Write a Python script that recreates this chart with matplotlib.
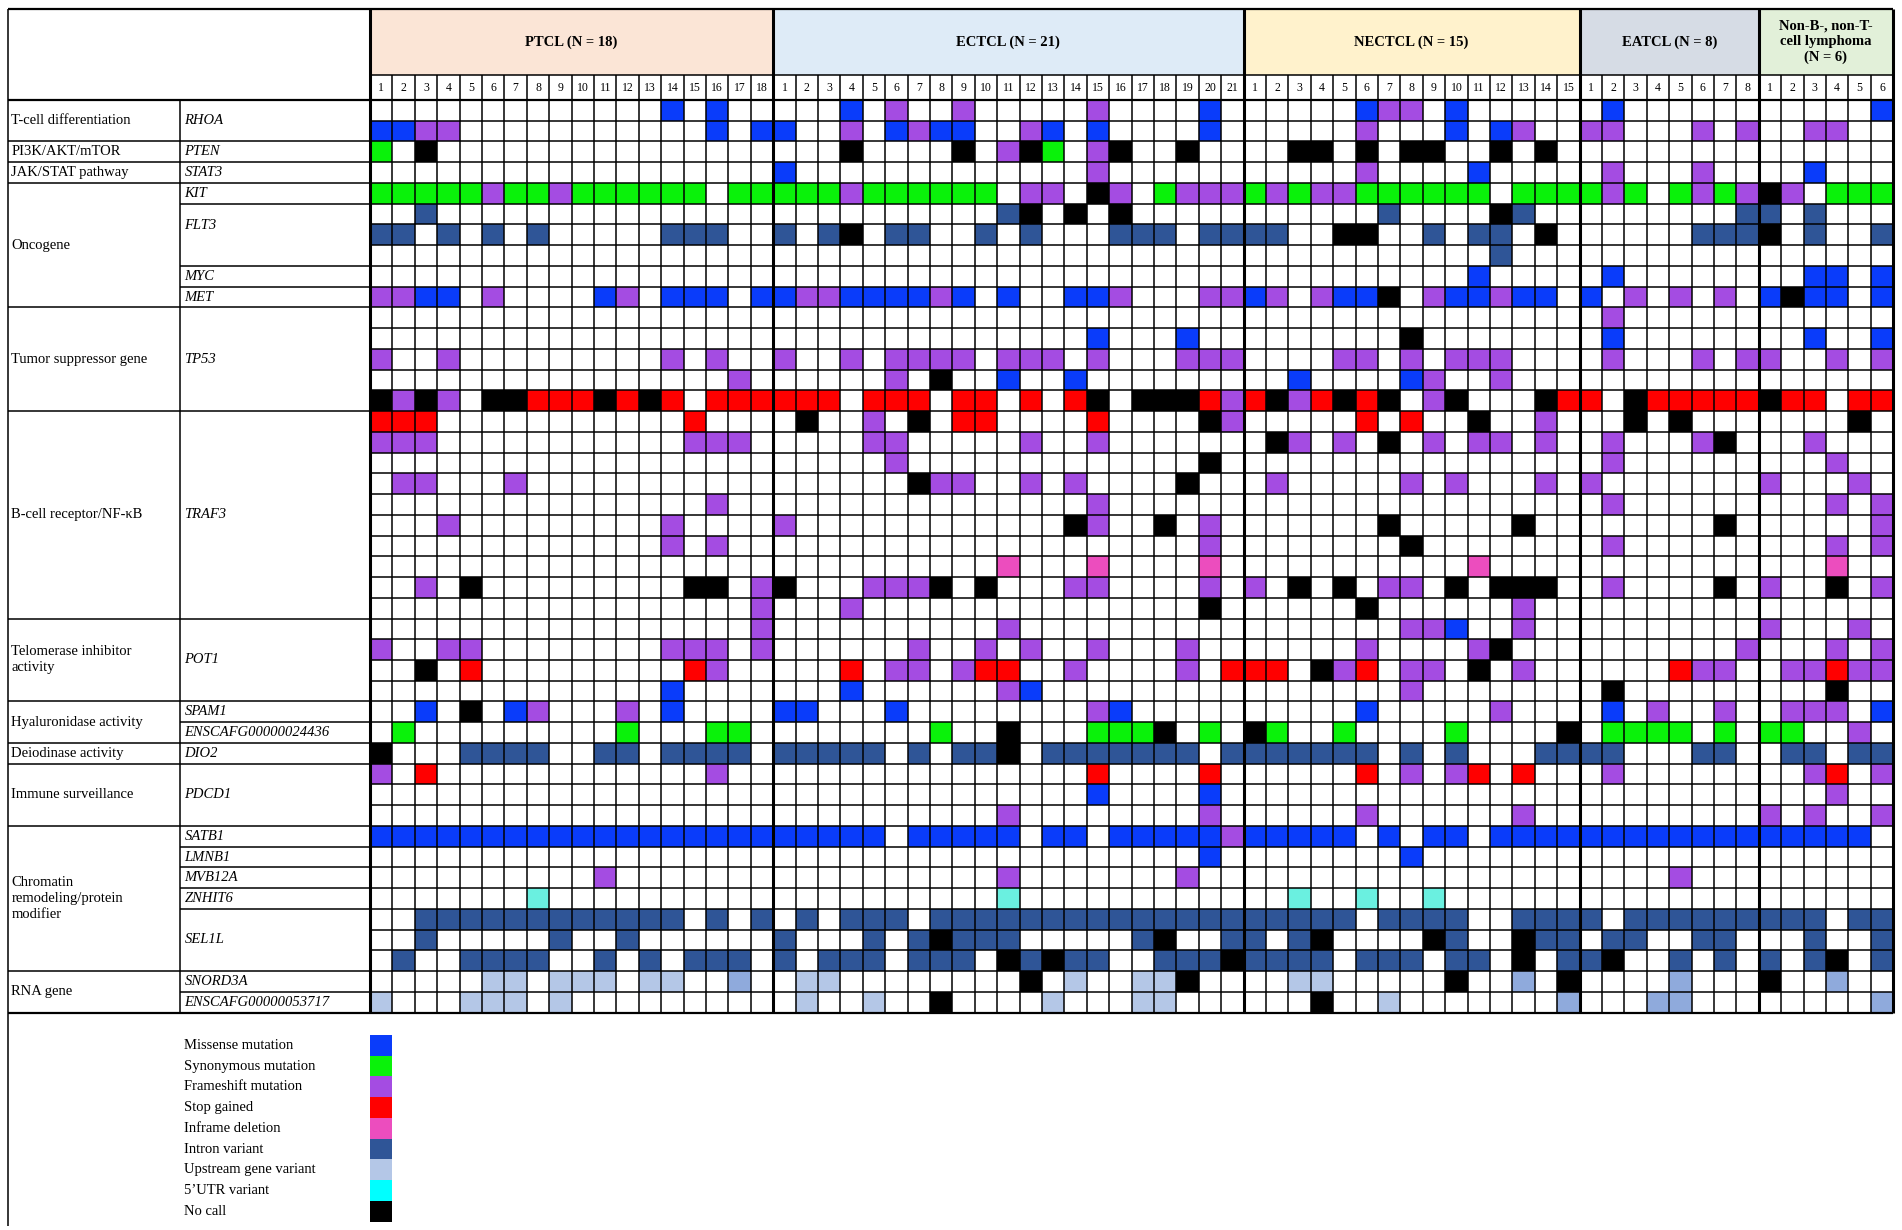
import matplotlib
matplotlib.use("Agg")
import matplotlib.pyplot as plt
import numpy as np
from matplotlib.colors import ListedColormap, BoundaryNorm
from matplotlib.patches import Rectangle

plt.rcParams['font.family'] = ['Liberation Serif', 'DejaVu Serif']

# ---- data -----------------------------------------------------------------
groups = ['PTCL (N = 18)', 'ECTCL (N = 21)', 'NECTCL (N = 15)', 'EATCL (N = 8)',
          'Non-B-, non-T-\ncell lymphoma\n(N = 6)']
group_sizes = [18, 21, 15, 8, 6]
group_colors = ['#FBE5D6', '#DEEBF7', '#FFF2CC', '#D6DCE5', '#E2F0D9']

# (gene, number of rows)
genes = [('RHOA', 2), ('PTEN', 1), ('STAT3', 1), ('KIT', 1), ('FLT3', 3), ('MYC', 1),
         ('MET', 1), ('TP53', 5), ('TRAF3', 10), ('POT1', 4), ('SPAM1', 1),
         ('ENSCAFG00000024436', 1), ('DIO2', 1), ('PDCD1', 3), ('SATB1', 1),
         ('LMNB1', 1), ('MVB12A', 1), ('ZNHIT6', 1), ('SEL1L', 3), ('SNORD3A', 1),
         ('ENSCAFG00000053717', 1)]

# (category, number of rows)
categories = [('T-cell differentiation', 2), ('PI3K/AKT/mTOR', 1), ('JAK/STAT pathway', 1),
              ('Oncogene', 6), ('Tumor suppressor gene', 5), ('B-cell receptor/NF-\u03baB', 10),
              ('Telomerase inhibitor\nactivity', 4), ('Hyaluronidase activity', 2),
              ('Deiodinase activity', 1), ('Immune surveillance', 3),
              ('Chromatin\nremodeling/protein\nmodifier', 7), ('RNA gene', 2)]

# codes: M missense, S synonymous, F frameshift, X stop gained, D inframe deletion,
# I intron, U upstream, V upstream (darker shade), T 5'UTR, N no call, . none
ptcl = [
    ".............M.M..", "MMFF...........M.M", "S.N...............", "..................",
    "SSSSSFSSFSSSSSS.SS", "..I...............", "II.I.I.I.....III..", "..................",
    "..................", "FFMM.F....MF.MMM.M", "..................", "..................",
    "F..F.........F.F..", "................F.", "NFNF.NNXXXNXNX.XXX",
    "XXX...........X...", "FFF...........FFF.", "..................", ".FF...F...........",
    "...............F..", "...F.........F....", ".............F.F..", "..................",
    "..F.N.........NN.F", ".................F",
    ".................F", "F..FF........FFF.F", "..N.X.........XF..", ".............M....",
    "..M.N.MF...F.M....", ".S.........S...SS.", "N...IIII..II.IIII.", "F.X............F..",
    "..................", "..................", "MMMMMMMMMMMMMMMMMM", "..................",
    "..........F.......", ".......T..........", "..IIIIIIIIIIII.I.I", "..I.....I..I......",
    ".I..IIII..I.I.III.", ".....UU.UUU.UU..V.", "U...UUU.U.........",
]
ectcl = [
    "...M.F..F.....F....M.", "M..F.MFMM..FM.M....M.", "...N....N.FNS.FN..N..",
    "M.............F......", "SSSFSSSSSS.FF.NF.SFFF", "..........IN.N.N.....",
    "I.IN.II..I.I...III.II", ".....................", ".....................",
    "MFFMMMMFM.M..MMF...FF", ".....................", "..............M...M..",
    "F..F.FFFF.FFF.F...FFF", ".....F.N..M..M.......", "XXX.XXX.XX.X.XN.NNNXF",
    ".N..F.N.XX....X....NF", "....FF.....F..F......", ".....F.............N.",
    "......NFF..F.F....N..", "..............F......", "F............NF..N.F.",
    "...................F.", "..........D...D....D.", "N...FFFN.N...FF....F.",
    "...F...............N.",
    "..........F..........", "......F..F.F..F...F..", "...X.FF.FXX..F....F.X",
    "...M......FM.........",
    "MM...M........FM.....", ".......S..N...SSSN.S.", "IIIII.I.IIN.IIIIIII.I",
    "..............X....X.", "..............M....M.", "..........F........F.",
    "MMMMM.MMMMM.MM.MMMMMF", "...................M.", "..........F.......F..",
    "..........T..........", ".I.III.IIIIIIIIIIIIII", "I...I.INIII.....IN..I",
    "I.III.III.NINII..IIIN", ".UU........N.U..UUN..", ".U..U..N....U...UU...",
]
nectcl = [
    ".....MFF.M.....", ".....F...M.MF..", "..NN.N.NN..N.N.", ".....F....M....",
    "SFSFFSSSSSS.SSS", "......I....NI..", "II..NN..I.II.N.", "...........I...",
    "..........M....", "MF.FMMN.FMMFMM.", "...............", ".......N.......",
    "....FF.F.FFF...", "..M....MF..F...", "XNFXNXN.FN...NX",
    ".....X.X..N..F.", ".NF.F.N.F.FF.F.", "...............", ".F.....F.F...F.",
    "...............", "......N.....N..", ".......N.......", "..........D....",
    "F.N.N.FF.N.NNN.", ".....N......F..",
    ".......FFM..F..", ".....F....FN...", "XX.NFX.FF.N.F..", ".......F.......",
    ".....M.....F...", "NS..S....S....N", "IIIIII.I.I...II", ".....X.F.FX.X..",
    "...............", ".....F......F..", "MMMMM.M.MM.MMMM", ".......M.......",
    "...............", "..T..T..T......", "IIIII.IIII..III", "I.IN....NI..NII",
    "IIII.III.II.N.I", "..UU.....N..V.N", "...N..U.......V",
]
eatcl = [
    ".M......", "FF...F.F", "........", ".F...F..", "SFS.SFSF", ".......I", ".....III",
    "........", ".M......", "M.F.F.F.", ".F......", ".M......", ".F...F.F", "........",
    "X.NXXXXX",
    "..N.N...", ".F...FN.", ".F......", "F.......", ".F......", "......N.", ".F......",
    "........", ".F....N.", "........",
    "........", ".......F", "....XFF.", ".N......",
    ".M.F..F.", ".SSSS.S.", "II...II.", ".F......", "........", "........", "MMMMMMMM",
    "........", "....F...", "........", "I.IIIIII", ".II..II.", "IN..I.I.", "....V...",
    "...VV...",
]
nonbt = [
    ".....M", "..FF..", "......", "..M...", "NF.SSS", "I.I...", "N.I..I", "......",
    "..MM.M", "MNMM.M", "......", "..M..M", "F..F.F", "......", "NXX.XX",
    "....N.", "..F...", "...F..", "F...F.", "...F.F", ".....F", "...F.F", "...D..",
    "F..N.F", "......",
    "F...F.", "...F.F", ".FFXFF", "...N..",
    ".FFF.M", "SS..F.", ".II.II", "..FX.F", "...F..", "F.F..F", "MMMMM.", "......",
    "......", "......", "III.II", "..I..I", "I.IN.I", "N..V..", ".....V",
]

codes = ['M', 'S', 'F', 'X', 'D', 'I', 'U', 'V', 'T', 'N']
code_colors = ['#0A3CFA', '#0AF20A', '#A44CE2', '#FF0000', '#EC4DBE',
               '#2F5597', '#B4C7E7', '#8FAADC', '#6AF0E0', '#000000']

legend_labels = ['Missense mutation', 'Synonymous mutation', 'Frameshift mutation',
                 'Stop gained', 'Inframe deletion', 'Intron variant',
                 'Upstream gene variant', '5\u2019UTR variant', 'No call']
legend_colors = ['#0A3CFA', '#0AF20A', '#A44CE2', '#FF0000', '#EC4DBE',
                 '#2F5597', '#B4C7E7', '#00FFFF', '#000000']

# ---- layout (pixels of the 1902x1230 canvas) --------------------------------
W, H = 1902, 1230
X0, Y0 = 370, 100          # top-left corner of the mutation grid
CW, CH = 22.4, 20.74       # cell size
LEFT = -(X0 - 8) / CW      # left edge of the label table (data units)
GENE_X = -(X0 - 180) / CW  # border between category and gene columns
NUM_H = 25 / CH            # height of the sample-number row
HEAD_H = 66 / CH           # height of the group header row

rows = [a + b + c + d + e for a, b, c, d, e in zip(ptcl, ectcl, nectcl, eatcl, nonbt)]
n_rows, n_cols = len(rows), len(rows[0])
mat = np.full((n_rows, n_cols), np.nan)
for i, r in enumerate(rows):
    for j, ch in enumerate(r):
        if ch in codes:
            mat[i, j] = codes.index(ch)
mat = np.ma.masked_invalid(mat)

fig = plt.figure(figsize=(W / 100, H / 100), dpi=100)
ax = fig.add_axes([0, 0, 1, 1])
ax.set_xlim(-X0 / CW, (W - X0) / CW)
ax.set_ylim((H - Y0) / CH, -Y0 / CH)
ax.axis('off')

cmap = ListedColormap(code_colors)
norm = BoundaryNorm(np.arange(len(codes) + 1) - 0.5, len(codes))
ax.pcolormesh(np.arange(n_cols + 1), np.arange(n_rows + 1), mat, cmap=cmap, norm=norm)

# group headers
bounds = np.concatenate([[0], np.cumsum(group_sizes)])
top = -(NUM_H + HEAD_H)
for k, name in enumerate(groups):
    x0, x1 = bounds[k], bounds[k + 1]
    ax.add_patch(Rectangle((x0, top), x1 - x0, HEAD_H, facecolor=group_colors[k],
                           edgecolor='none'))
    ax.text((x0 + x1) / 2, top + HEAD_H / 2, name, ha='center', va='center',
            fontsize=10.5, fontweight='bold', linespacing=1.25)
    for n in range(group_sizes[k]):
        ax.text(x0 + n + 0.5, -NUM_H / 2, str(n + 1), ha='center', va='center', fontsize=8.5)

# grid lines
ax.hlines(np.arange(n_rows + 1), 0, n_cols, color='black', lw=1.1)
ax.hlines(-NUM_H, 0, n_cols, color='black', lw=1.1)
ax.vlines(np.arange(n_cols + 1), -NUM_H, n_rows, color='black', lw=1.1)
ax.vlines(bounds, top, n_rows, color='black', lw=2.2)
ax.hlines([top, 0, n_rows], LEFT, n_cols, color='black', lw=1.6)
ax.vlines(LEFT, top, n_rows, color='black', lw=1.1)
ax.vlines(GENE_X, 0, n_rows, color='black', lw=1.1)

# gene labels and lines
g_bounds = np.concatenate([[0], np.cumsum([n for _, n in genes])])
for k, (g, n) in enumerate(genes):
    y = (g_bounds[k] + g_bounds[k + 1]) / 2
    if g == 'FLT3':
        y = g_bounds[k] + 1.05
    ax.text(GENE_X + 0.2, y, g, ha='left', va='center', fontsize=10.5, style='italic')
ax.hlines(g_bounds, GENE_X, 0, color='black', lw=1.1)

c_bounds = np.concatenate([[0], np.cumsum([n for _, n in categories])])
for k, (c, n) in enumerate(categories):
    ax.text(LEFT + 0.15, (c_bounds[k] + c_bounds[k + 1]) / 2, c, ha='left', va='center',
            fontsize=10.5, linespacing=1.3)
ax.hlines(c_bounds, LEFT, GENE_X, color='black', lw=1.1)

# legend
leg_y0 = (1035 - Y0) / CH
for k, (lab, col) in enumerate(zip(legend_labels, legend_colors)):
    ax.add_patch(Rectangle((0, leg_y0 + k), 1, 1, facecolor=col, edgecolor='none'))
    ax.text(GENE_X + 0.2, leg_y0 + k + 0.5, lab, ha='left', va='center', fontsize=10.5)
ax.vlines(LEFT, n_rows, leg_y0 + len(legend_labels) + 0.2, color='black', lw=1.1)

fig.savefig('out.png', dpi=100)
